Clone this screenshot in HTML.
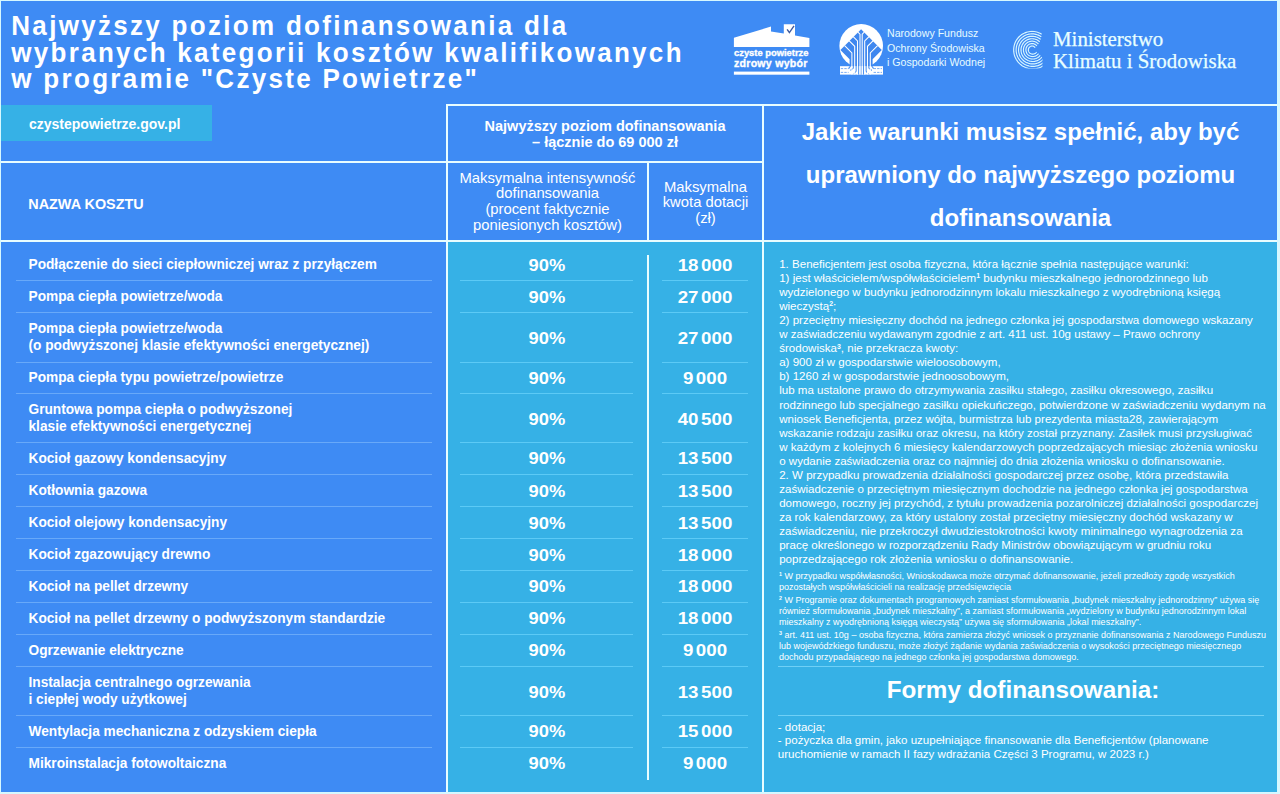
<!DOCTYPE html>
<html><head><meta charset="utf-8">
<style>
*{margin:0;padding:0;box-sizing:border-box}
html,body{width:1280px;height:794px;overflow:hidden;background:#d6f8ff}
body{position:relative;font-family:"Liberation Sans",sans-serif;color:#fff}
.a{position:absolute;line-height:1;white-space:pre}
#main{left:1px;top:1px;width:1276px;height:791px;background:#3e8bf4}
.wl{background:#e8fdff}
.title{left:11.3px;font-weight:bold;font-size:26px;letter-spacing:2.3px;transform-origin:0 0;transform:scaleY(1.07)}
.cyan{background:#36b1e6}
.sep{height:1px;background:#68a9f9}
.sepc{height:1px;background:#5ccaf6}
.nm{left:28.5px;font-weight:bold;font-size:13.7px;transform-origin:0 11.6px;transform:scaleY(1.1)}
.pc{left:447px;width:200px;text-align:center;font-weight:bold;font-size:17px;transform:scaleX(1.08)}
.am{left:648px;width:114px;text-align:center;font-weight:bold;font-size:17px;transform:scaleX(1.1)}
.sp{letter-spacing:-2.4px}
.bt{left:779.2px;font-size:11.55px}
.fn{left:779px;font-size:9px}
sup{font-size:60%;vertical-align:0;position:relative;top:-0.5em;font-weight:bold}
.hd{font-weight:bold;font-size:14.5px;text-align:center}
.hr{font-size:14.8px;text-align:center}
.rt{left:764px;width:513px;text-align:center;font-weight:bold;font-size:24px}
</style></head><body>
<div id="main" class="a"></div>
<div class="a title" style="top:11px">Najwyższy poziom dofinansowania dla</div>
<div class="a title" style="top:37.5px">wybranych kategorii kosztów kwalifikowanych</div>
<div class="a title" style="top:64px">w programie "Czyste Powietrze"</div>

<!-- url box -->
<div class="a cyan" style="left:1px;top:105px;width:211px;height:36px"></div>
<div class="a" style="left:29px;top:117px;font-weight:bold;font-size:14px">czystepowietrze.gov.pl</div>

<!-- cyan body columns -->
<div class="a cyan" style="left:448px;top:242px;width:314px;height:550px"></div>
<div class="a cyan" style="left:764px;top:242px;width:513px;height:550px"></div>

<!-- white lines -->
<div class="a wl" style="left:446px;top:104px;width:831px;height:2px"></div>
<div class="a wl" style="left:1px;top:161px;width:447px;height:2px"></div>
<div class="a wl" style="left:446px;top:161px;width:317px;height:2px"></div>
<div class="a wl" style="left:1px;top:240px;width:1276px;height:2px"></div>
<div class="a wl" style="left:446px;top:104px;width:2px;height:688px"></div>
<div class="a wl" style="left:762px;top:104px;width:2px;height:688px"></div>
<div class="a wl" style="left:647px;top:161px;width:2px;height:81px"></div>
<div class="a wl" style="left:646.5px;top:255px;width:2px;height:525px"></div>

<!-- header texts -->
<div class="a" style="left:28.3px;top:197px;font-weight:bold;font-size:14.4px">NAZWA KOSZTU</div>
<div class="a hd" style="left:448px;width:314px;top:119px">Najwyższy poziom dofinansowania</div>
<div class="a hd" style="left:448px;width:314px;top:135px">– łącznie do 69 000 zł</div>
<div class="a hr" style="left:448px;width:199px;top:170.7px">Maksymalna intensywność</div>
<div class="a hr" style="left:448px;width:199px;top:186px">dofinansowania</div>
<div class="a hr" style="left:448px;width:199px;top:202.2px">(procent faktycznie</div>
<div class="a hr" style="left:448px;width:199px;top:218px">poniesionych kosztów)</div>
<div class="a hr" style="left:649px;width:113px;top:179.8px">Maksymalna</div>
<div class="a hr" style="left:649px;width:113px;top:195px">kwota dotacji</div>
<div class="a hr" style="left:649px;width:113px;top:210.5px">(zł)</div>

<div class="a rt" style="top:120px">Jakie warunki musisz spełnić, aby być</div>
<div class="a rt" style="top:163px">uprawniony do najwyższego poziomu</div>
<div class="a rt" style="top:206px">dofinansowania</div>

<div class="a nm" style="top:258.1px">Podłączenie do sieci ciepłowniczej wraz z przyłączem</div>
<div class="a pc" style="top:256.6px">90%</div>
<div class="a am" style="top:256.6px">18<span class=sp> </span>000</div>
<div class="a sep" style="left:16px;width:416px;top:280.0px"></div>
<div class="a sepc" style="left:460px;width:173px;top:280.0px"></div>
<div class="a sepc" style="left:662px;width:86px;top:280.0px"></div>
<div class="a nm" style="top:290.1px">Pompa ciepła powietrze/woda</div>
<div class="a pc" style="top:288.6px">90%</div>
<div class="a am" style="top:288.6px">27<span class=sp> </span>000</div>
<div class="a sep" style="left:16px;width:416px;top:312.0px"></div>
<div class="a sepc" style="left:460px;width:173px;top:312.0px"></div>
<div class="a sepc" style="left:662px;width:86px;top:312.0px"></div>
<div class="a nm" style="top:322.3px">Pompa ciepła powietrze/woda</div>
<div class="a nm" style="top:339.3px">(o podwyższonej klasie efektywności energetycznej)</div>
<div class="a pc" style="top:330.2px">90%</div>
<div class="a am" style="top:330.2px">27<span class=sp> </span>000</div>
<div class="a sep" style="left:16px;width:416px;top:361.5px"></div>
<div class="a sepc" style="left:460px;width:173px;top:361.5px"></div>
<div class="a sepc" style="left:662px;width:86px;top:361.5px"></div>
<div class="a nm" style="top:371.3px">Pompa ciepła typu powietrze/powietrze</div>
<div class="a pc" style="top:369.8px">90%</div>
<div class="a am" style="top:369.8px">9<span class=sp> </span>000</div>
<div class="a sep" style="left:16px;width:416px;top:393.0px"></div>
<div class="a sepc" style="left:460px;width:173px;top:393.0px"></div>
<div class="a sepc" style="left:662px;width:86px;top:393.0px"></div>
<div class="a nm" style="top:403.1px">Gruntowa pompa ciepła o podwyższonej</div>
<div class="a nm" style="top:420.1px">klasie efektywności energetycznej</div>
<div class="a pc" style="top:410.9px">90%</div>
<div class="a am" style="top:410.9px">40<span class=sp> </span>500</div>
<div class="a sep" style="left:16px;width:416px;top:442.0px"></div>
<div class="a sepc" style="left:460px;width:173px;top:442.0px"></div>
<div class="a sepc" style="left:662px;width:86px;top:442.0px"></div>
<div class="a nm" style="top:452.0px">Kocioł gazowy kondensacyjny</div>
<div class="a pc" style="top:450.4px">90%</div>
<div class="a am" style="top:450.4px">13<span class=sp> </span>500</div>
<div class="a sep" style="left:16px;width:416px;top:473.8px"></div>
<div class="a sepc" style="left:460px;width:173px;top:473.8px"></div>
<div class="a sepc" style="left:662px;width:86px;top:473.8px"></div>
<div class="a nm" style="top:484.1px">Kotłownia gazowa</div>
<div class="a pc" style="top:482.6px">90%</div>
<div class="a am" style="top:482.6px">13<span class=sp> </span>500</div>
<div class="a sep" style="left:16px;width:416px;top:506.2px"></div>
<div class="a sepc" style="left:460px;width:173px;top:506.2px"></div>
<div class="a sepc" style="left:662px;width:86px;top:506.2px"></div>
<div class="a nm" style="top:516.2px">Kocioł olejowy kondensacyjny</div>
<div class="a pc" style="top:514.7px">90%</div>
<div class="a am" style="top:514.7px">13<span class=sp> </span>500</div>
<div class="a sep" style="left:16px;width:416px;top:538.1px"></div>
<div class="a sepc" style="left:460px;width:173px;top:538.1px"></div>
<div class="a sepc" style="left:662px;width:86px;top:538.1px"></div>
<div class="a nm" style="top:548.1px">Kocioł zgazowujący drewno</div>
<div class="a pc" style="top:546.5px">90%</div>
<div class="a am" style="top:546.5px">18<span class=sp> </span>000</div>
<div class="a sep" style="left:16px;width:416px;top:569.9px"></div>
<div class="a sepc" style="left:460px;width:173px;top:569.9px"></div>
<div class="a sepc" style="left:662px;width:86px;top:569.9px"></div>
<div class="a nm" style="top:579.9px">Kocioł na pellet drzewny</div>
<div class="a pc" style="top:578.3px">90%</div>
<div class="a am" style="top:578.3px">18<span class=sp> </span>000</div>
<div class="a sep" style="left:16px;width:416px;top:601.7px"></div>
<div class="a sepc" style="left:460px;width:173px;top:601.7px"></div>
<div class="a sepc" style="left:662px;width:86px;top:601.7px"></div>
<div class="a nm" style="top:611.7px">Kocioł na pellet drzewny o podwyższonym standardzie</div>
<div class="a pc" style="top:610.1px">90%</div>
<div class="a am" style="top:610.1px">18<span class=sp> </span>000</div>
<div class="a sep" style="left:16px;width:416px;top:633.5px"></div>
<div class="a sepc" style="left:460px;width:173px;top:633.5px"></div>
<div class="a sepc" style="left:662px;width:86px;top:633.5px"></div>
<div class="a nm" style="top:643.9px">Ogrzewanie elektryczne</div>
<div class="a pc" style="top:642.4px">90%</div>
<div class="a am" style="top:642.4px">9<span class=sp> </span>000</div>
<div class="a sep" style="left:16px;width:416px;top:666.2px"></div>
<div class="a sepc" style="left:460px;width:173px;top:666.2px"></div>
<div class="a sepc" style="left:662px;width:86px;top:666.2px"></div>
<div class="a nm" style="top:676.1px">Instalacja centralnego ogrzewania</div>
<div class="a nm" style="top:693.1px">i ciepłej wody użytkowej</div>
<div class="a pc" style="top:683.9px">90%</div>
<div class="a am" style="top:683.9px">13<span class=sp> </span>500</div>
<div class="a sep" style="left:16px;width:416px;top:714.8px"></div>
<div class="a sepc" style="left:460px;width:173px;top:714.8px"></div>
<div class="a sepc" style="left:662px;width:86px;top:714.8px"></div>
<div class="a nm" style="top:724.7px">Wentylacja mechaniczna z odzyskiem ciepła</div>
<div class="a pc" style="top:723.2px">90%</div>
<div class="a am" style="top:723.2px">15<span class=sp> </span>000</div>
<div class="a sep" style="left:16px;width:416px;top:746.5px"></div>
<div class="a sepc" style="left:460px;width:173px;top:746.5px"></div>
<div class="a sepc" style="left:662px;width:86px;top:746.5px"></div>
<div class="a nm" style="top:756.6px">Mikroinstalacja fotowoltaiczna</div>
<div class="a pc" style="top:755.0px">90%</div>
<div class="a am" style="top:755.0px">9<span class=sp> </span>000</div>
<div class="a bt" style="top:258.7px">1. Beneficjentem jest osoba fizyczna, która łącznie spełnia następujące warunki:</div>
<div class="a bt" style="top:272.8px">1) jest właścicielem/współwłaścicielem<sup>1</sup> budynku mieszkalnego jednorodzinnego lub</div>
<div class="a bt" style="top:286.8px">wydzielonego w budynku jednorodzinnym lokalu mieszkalnego z wyodrębnioną księgą</div>
<div class="a bt" style="top:300.9px">wieczystą<sup>2</sup>;</div>
<div class="a bt" style="top:315.0px">2) przeciętny miesięczny dochód na jednego członka jej gospodarstwa domowego wskazany</div>
<div class="a bt" style="top:329.1px">w zaświadczeniu wydawanym zgodnie z art. 411 ust. 10g ustawy – Prawo ochrony</div>
<div class="a bt" style="top:343.2px">środowiska<sup>3</sup>, nie przekracza kwoty:</div>
<div class="a bt" style="top:357.2px">a) 900 zł w gospodarstwie wieloosobowym,</div>
<div class="a bt" style="top:371.3px">b) 1260 zł w gospodarstwie jednoosobowym,</div>
<div class="a bt" style="top:385.4px">lub ma ustalone prawo do otrzymywania zasiłku stałego, zasiłku okresowego, zasiłku</div>
<div class="a bt" style="top:399.5px">rodzinnego lub specjalnego zasiłku opiekuńczego, potwierdzone w zaświadczeniu wydanym na</div>
<div class="a bt" style="top:413.6px">wniosek Beneficjenta, przez wójta, burmistrza lub prezydenta miasta28, zawierającym</div>
<div class="a bt" style="top:427.6px">wskazanie rodzaju zasiłku oraz okresu, na który został przyznany. Zasiłek musi przysługiwać</div>
<div class="a bt" style="top:441.7px">w każdym z kolejnych 6 miesięcy kalendarzowych poprzedzających miesiąc złożenia wniosku</div>
<div class="a bt" style="top:455.8px">o wydanie zaświadczenia oraz co najmniej do dnia złożenia wniosku o dofinansowanie.</div>
<div class="a bt" style="top:469.9px">2. W przypadku prowadzenia działalności gospodarczej przez osobę, która przedstawiła</div>
<div class="a bt" style="top:484.0px">zaświadczenie o przeciętnym miesięcznym dochodzie na jednego członka jej gospodarstwa</div>
<div class="a bt" style="top:498.0px">domowego, roczny jej przychód, z tytułu prowadzenia pozarolniczej działalności gospodarczej</div>
<div class="a bt" style="top:512.1px">za rok kalendarzowy, za który ustalony został przeciętny miesięczny dochód wskazany w</div>
<div class="a bt" style="top:526.2px">zaświadczeniu, nie przekroczył dwudziestokrotności kwoty minimalnego wynagrodzenia za</div>
<div class="a bt" style="top:540.3px">pracę określonego w rozporządzeniu Rady Ministrów obowiązującym w grudniu roku</div>
<div class="a bt" style="top:554.4px">poprzedzającego rok złożenia wniosku o dofinansowanie.</div>
<div class="a fn" style="top:571.6px"><sup>1</sup> W przypadku współwłasności, Wnioskodawca może otrzymać dofinansowanie, jeżeli przedłoży zgodę wszystkich</div>
<div class="a fn" style="top:582.8px">pozostałych współwłaścicieli na realizację przedsięwzięcia</div>
<div class="a fn" style="top:595.8px"><sup>2</sup> W Programie oraz dokumentach programowych zamiast sformułowania „budynek mieszkalny jednorodzinny” używa się</div>
<div class="a fn" style="top:607.2px">również sformułowania „budynek mieszkalny”, a zamiast sformułowania „wydzielony w budynku jednorodzinnym lokal</div>
<div class="a fn" style="top:617.8px">mieszkalny z wyodrębnioną księgą wieczystą” używa się sformułowania „lokal mieszkalny”.</div>
<div class="a fn" style="top:631.1px"><sup>3</sup> art. 411 ust. 10g – osoba fizyczna, która zamierza złożyć wniosek o przyznanie dofinansowania z Narodowego Funduszu</div>
<div class="a fn" style="top:642.1px">lub wojewódzkiego funduszu, może złożyć żądanie wydania zaświadczenia o wysokości przeciętnego miesięcznego</div>
<div class="a fn" style="top:652.8px">dochodu przypadającego na jednego członka jej gospodarstwa domowego.</div>
<div class="a bt" style="left:777.8px;top:721.5px">- dotacja;</div>
<div class="a bt" style="left:777.8px;top:735.4px">- pożyczka dla gmin, jako uzupełniające finansowanie dla Beneficjentów (planowane</div>
<div class="a bt" style="left:777.8px;top:749.2px">uruchomienie w ramach II fazy wdrażania Części 3 Programu, w 2023 r.)</div>

<div class="a" style="left:778px;top:666px;width:486px;height:1px;background:#6fd0f6"></div>
<div class="a" style="left:778px;top:715px;width:486px;height:1px;background:#6fd0f6"></div>
<div class="a rt" style="top:677.5px;left:766.5px;font-size:24.3px">Formy dofinansowania:</div>


<svg class="a" style="left:0;top:0" width="1280" height="100" viewBox="0 0 1280 100">
 <path d="M733.9 46.9 L733.9 37.7 L771 26.6 L771 31.5 L783.8 33.5 L783.8 24.3 L795 24.3 L795 35.4 L809.4 38 L809.4 46.9 Z" fill="#fff"/>
 <path d="M787.1 29.3 L789.4 32.6 L794 25.9" fill="none" stroke="#3d5a9e" stroke-width="1.4"/>
 <rect x="733.9" y="71.6" width="75.5" height="3.1" fill="#fff"/>
 <circle cx="861.2" cy="45.9" r="21.8" fill="#fff"/>
 <path d="M861.10 29.30 L840.40 50.00 L849.60 59.20 L849.60 66.50 L872.60 66.50 L872.60 59.20 L881.80 50.00 L861.10 29.30 Z" fill="#3f87ef"/>
 <rect x="840" y="66.2" width="43" height="8.4" fill="#fff"/>
 <g fill="none" stroke="#6aa3f2" stroke-width="0.9" stroke-dasharray="2.4 1.1">
  <path d="M840.8 68.6 L848.6 68.6 M873.6 68.6 L882 68.6"/>
  <path d="M840.8 72.4 L848.6 72.4 M873.6 72.4 L882 72.4"/>
 </g>
 <g fill="none" stroke="#4f93f0" stroke-width="1.2">
  <path d="M861.1 66 V74.4 M858.7 66 V74.4 M863.50 66 V74.4 M856.1 66 V71 L854 74 M866.10 66 V71 L868.20 74 M853.3 66 V68 L850.5 70.5 M868.90 66 V68 L871.70 70.5 M850.5 66 L848.6 68.6 M871.70 66 L873.60 68.6"/>
 </g>
 <path d="M844.60 45.60 L851.90 52.90 L851.90 74.6 M877.60 45.60 L870.30 52.90 L870.30 74.6 M849.00 40.60 L854.70 46.30 L854.70 74.6 M873.20 40.60 L867.50 46.30 L867.50 74.6 M853.20 36.60 L857.50 40.90 L857.50 74.6 M869.00 36.60 L864.70 40.90 L864.70 74.6 M857.90 32.10 L860.00 34.20 L860.00 74.6 M864.30 32.10 L862.20 34.20 L862.20 74.6 " fill="none" stroke="#fff" stroke-width="1.05" stroke-linejoin="miter"/>
 <g fill="none" stroke="#d8f6ff" stroke-width="1.15" clip-path="url(#spc)">
  <clipPath id="spc"><rect x="1012" y="30.5" width="30.5" height="38"/></clipPath>
  <path d="M1035.10 47.71 L1034.95 47.47 L1034.78 47.24 L1034.58 47.02 L1034.37 46.83 L1034.13 46.65 L1033.89 46.49 L1033.62 46.35 L1033.35 46.23 L1033.06 46.14 L1032.76 46.07 L1032.46 46.03 L1032.15 46.01 L1031.84 46.02 L1031.53 46.06 L1031.22 46.12 L1030.91 46.21 L1030.62 46.33 L1030.33 46.47 L1030.05 46.64 L1029.79 46.84 L1029.55 47.05 L1029.32 47.29 L1029.11 47.55 L1028.93 47.83 L1028.76 48.12 L1028.63 48.43 L1028.52 48.76 L1028.43 49.09 L1028.38 49.43 L1028.35 49.78 L1028.36 50.13 L1028.39 50.48 L1028.46 50.82 L1028.56 51.17 L1028.68 51.50 L1028.84 51.83 L1029.02 52.14 L1029.23 52.43 L1029.47 52.71 L1029.73 52.97 L1030.02 53.21 L1030.32 53.42 L1030.65 53.61 L1030.99 53.77 L1031.35 53.90 L1031.72 54.00 L1032.09 54.06 L1032.48 54.10 L1032.87 54.10 L1033.26 54.07 L1033.64 54.00 L1034.02 53.90 L1034.40 53.77 L1034.76 53.61 L1035.11 53.41 L1035.44 53.18 L1035.76 52.93 L1036.05 52.64 L1036.32 52.33 L1036.56 52.00"/>
  <path d="M1036.87 45.98 L1036.57 45.60 L1036.24 45.25 L1035.87 44.92 L1035.48 44.63 L1035.07 44.37 L1034.63 44.14 L1034.17 43.95 L1033.70 43.79 L1033.21 43.68 L1032.71 43.61 L1032.21 43.58 L1031.70 43.59 L1031.20 43.64 L1030.70 43.74 L1030.20 43.88 L1029.72 44.06 L1029.26 44.28 L1028.81 44.55 L1028.38 44.85 L1027.98 45.18 L1027.61 45.55 L1027.26 45.95 L1026.96 46.38 L1026.68 46.84 L1026.45 47.32 L1026.25 47.81 L1026.10 48.33 L1025.99 48.86 L1025.93 49.40 L1025.91 49.94 L1025.94 50.49 L1026.01 51.03 L1026.13 51.57 L1026.29 52.09 L1026.50 52.61 L1026.75 53.10 L1027.04 53.58 L1027.37 54.03 L1027.75 54.45 L1028.15 54.85 L1028.59 55.20 L1029.06 55.52 L1029.56 55.81 L1030.08 56.05 L1030.62 56.24 L1031.18 56.39 L1031.75 56.49 L1032.33 56.55 L1032.91 56.56 L1033.50 56.51 L1034.08 56.42 L1034.65 56.28 L1035.21 56.09 L1035.76 55.86 L1036.28 55.58 L1036.78 55.25 L1037.26 54.88 L1037.70 54.47 L1038.11 54.03 L1038.48 53.55"/>
  <path d="M1038.40 44.01 L1037.94 43.52 L1037.44 43.07 L1036.90 42.66 L1036.33 42.29 L1035.73 41.97 L1035.10 41.70 L1034.46 41.48 L1033.79 41.32 L1033.11 41.21 L1032.42 41.15 L1031.73 41.15 L1031.04 41.21 L1030.35 41.32 L1029.68 41.49 L1029.02 41.72 L1028.37 42.00 L1027.75 42.34 L1027.16 42.72 L1026.60 43.15 L1026.07 43.63 L1025.59 44.15 L1025.14 44.71 L1024.75 45.31 L1024.40 45.94 L1024.10 46.59 L1023.86 47.27 L1023.68 47.98 L1023.55 48.69 L1023.48 49.42 L1023.47 50.15 L1023.52 50.88 L1023.63 51.60 L1023.80 52.32 L1024.02 53.02 L1024.31 53.71 L1024.65 54.37 L1025.04 55.00 L1025.49 55.60 L1025.99 56.16 L1026.53 56.68 L1027.11 57.16 L1027.73 57.59 L1028.39 57.96 L1029.08 58.29 L1029.79 58.55 L1030.53 58.76 L1031.28 58.91 L1032.04 58.99 L1032.81 59.02 L1033.58 58.98 L1034.35 58.87 L1035.10 58.71 L1035.85 58.48 L1036.57 58.19 L1037.27 57.84 L1037.94 57.44 L1038.58 56.98 L1039.18 56.47 L1039.74 55.91 L1040.25 55.30"/>
  <path d="M1039.66 41.81 L1039.04 41.24 L1038.36 40.72 L1037.65 40.25 L1036.90 39.84 L1036.11 39.49 L1035.30 39.20 L1034.47 38.98 L1033.62 38.82 L1032.76 38.73 L1031.89 38.71 L1031.02 38.76 L1030.16 38.88 L1029.31 39.07 L1028.47 39.33 L1027.65 39.65 L1026.86 40.04 L1026.11 40.49 L1025.38 41.00 L1024.70 41.57 L1024.07 42.19 L1023.49 42.86 L1022.96 43.58 L1022.49 44.34 L1022.08 45.13 L1021.73 45.96 L1021.45 46.82 L1021.24 47.69 L1021.10 48.58 L1021.03 49.49 L1021.03 50.40 L1021.10 51.30 L1021.25 52.20 L1021.47 53.09 L1021.76 53.96 L1022.12 54.80 L1022.54 55.62 L1023.03 56.40 L1023.58 57.14 L1024.19 57.83 L1024.86 58.48 L1025.58 59.07 L1026.34 59.61 L1027.14 60.08 L1027.99 60.49 L1028.86 60.83 L1029.76 61.10 L1030.68 61.30 L1031.61 61.42 L1032.56 61.47 L1033.51 61.45 L1034.45 61.35 L1035.39 61.17 L1036.31 60.92 L1037.20 60.60 L1038.08 60.20 L1038.92 59.74 L1039.72 59.21 L1040.48 58.61 L1041.19 57.96 L1041.84 57.25"/>
  <path d="M1040.64 39.42 L1039.84 38.79 L1038.99 38.22 L1038.10 37.72 L1037.17 37.29 L1036.21 36.94 L1035.22 36.65 L1034.21 36.45 L1033.19 36.32 L1032.16 36.28 L1031.12 36.31 L1030.09 36.43 L1029.07 36.62 L1028.06 36.90 L1027.08 37.25 L1026.13 37.67 L1025.21 38.18 L1024.33 38.75 L1023.49 39.39 L1022.71 40.09 L1021.98 40.86 L1021.31 41.68 L1020.71 42.55 L1020.18 43.47 L1019.72 44.42 L1019.33 45.42 L1019.02 46.44 L1018.79 47.48 L1018.64 48.54 L1018.58 49.61 L1018.59 50.69 L1018.69 51.76 L1018.88 52.82 L1019.15 53.87 L1019.49 54.89 L1019.92 55.89 L1020.42 56.85 L1021.00 57.77 L1021.65 58.65 L1022.37 59.47 L1023.15 60.24 L1023.99 60.95 L1024.88 61.59 L1025.82 62.16 L1026.81 62.65 L1027.83 63.07 L1028.88 63.41 L1029.96 63.66 L1031.05 63.84 L1032.16 63.92 L1033.28 63.92 L1034.39 63.84 L1035.49 63.66 L1036.58 63.41 L1037.65 63.06 L1038.69 62.64 L1039.69 62.13 L1040.66 61.55 L1041.58 60.89 L1042.44 60.16 L1043.25 59.37"/>
  <path d="M1041.32 36.86 L1040.34 36.20 L1039.32 35.62 L1038.25 35.11 L1037.15 34.69 L1036.01 34.35 L1034.86 34.09 L1033.68 33.93 L1032.49 33.85 L1031.30 33.86 L1030.11 33.97 L1028.93 34.16 L1027.77 34.44 L1026.62 34.81 L1025.51 35.27 L1024.44 35.81 L1023.40 36.43 L1022.42 37.13 L1021.49 37.90 L1020.62 38.74 L1019.81 39.65 L1019.07 40.61 L1018.41 41.63 L1017.83 42.70 L1017.32 43.81 L1016.90 44.96 L1016.57 46.14 L1016.33 47.34 L1016.18 48.56 L1016.13 49.79 L1016.16 51.02 L1016.29 52.25 L1016.51 53.46 L1016.83 54.66 L1017.23 55.83 L1017.72 56.97 L1018.30 58.07 L1018.96 59.13 L1019.70 60.13 L1020.51 61.08 L1021.40 61.96 L1022.35 62.78 L1023.36 63.52 L1024.42 64.19 L1025.54 64.77 L1026.70 65.27 L1027.89 65.68 L1029.11 66.00 L1030.36 66.23 L1031.62 66.36 L1032.89 66.39 L1034.16 66.33 L1035.42 66.18 L1036.67 65.93 L1037.90 65.58 L1039.10 65.14 L1040.27 64.61 L1041.40 64.00 L1042.47 63.29 L1043.49 62.51 L1044.46 61.66"/>
  <path d="M1041.67 34.17 L1040.52 33.51 L1039.33 32.93 L1038.09 32.44 L1036.82 32.05 L1035.52 31.75 L1034.20 31.54 L1032.87 31.43 L1031.53 31.42 L1030.19 31.51 L1028.87 31.70 L1027.55 31.98 L1026.26 32.36 L1025.00 32.84 L1023.78 33.40 L1022.59 34.06 L1021.46 34.80 L1020.39 35.63 L1019.38 36.53 L1018.43 37.51 L1017.56 38.55 L1016.77 39.66 L1016.06 40.82 L1015.43 42.04 L1014.90 43.30 L1014.46 44.60 L1014.12 45.92 L1013.87 47.28 L1013.72 48.64 L1013.68 50.02 L1013.74 51.40 L1013.89 52.77 L1014.15 54.13 L1014.51 55.46 L1014.97 56.77 L1015.52 58.05 L1016.17 59.28 L1016.90 60.46 L1017.72 61.59 L1018.62 62.65 L1019.60 63.65 L1020.66 64.57 L1021.77 65.41 L1022.95 66.17 L1024.19 66.84 L1025.47 67.42 L1026.79 67.91 L1028.15 68.30 L1029.53 68.58 L1030.93 68.77 L1032.34 68.85 L1033.76 68.83 L1035.17 68.70 L1036.58 68.47 L1037.96 68.13 L1039.32 67.70 L1040.64 67.16 L1041.92 66.53 L1043.15 65.81 L1044.33 64.99 L1045.45 64.09"/>
 </g>
</svg>
<div class="a" style="left:734px;top:48px;font-weight:bold;font-size:9.4px;letter-spacing:0px;-webkit-text-stroke:0.35px #fff">czyste powietrze</div>
<div class="a" style="left:734px;top:58.3px;font-weight:bold;font-size:10.6px;letter-spacing:0.25px;-webkit-text-stroke:0.35px #fff">zdrowy wybór</div>
<div class="a" style="left:887px;top:28.3px;font-size:10.6px;color:#e6fbff">Narodowy Fundusz</div>
<div class="a" style="left:887px;top:42.8px;font-size:10.6px;color:#e6fbff">Ochrony Środowiska</div>
<div class="a" style="left:887px;top:57.2px;font-size:10.6px;color:#e6fbff">i Gospodarki Wodnej</div>
<div class="a" style="left:1053px;top:29.4px;font-family:'Liberation Serif',serif;font-size:20.9px;color:#e8ffff;-webkit-text-stroke:0.25px #e8ffff">Ministerstwo</div>
<div class="a" style="left:1053px;top:50.6px;font-family:'Liberation Serif',serif;font-size:20.9px;color:#e8ffff;-webkit-text-stroke:0.25px #e8ffff">Klimatu i Środowiska</div>

</body></html>
